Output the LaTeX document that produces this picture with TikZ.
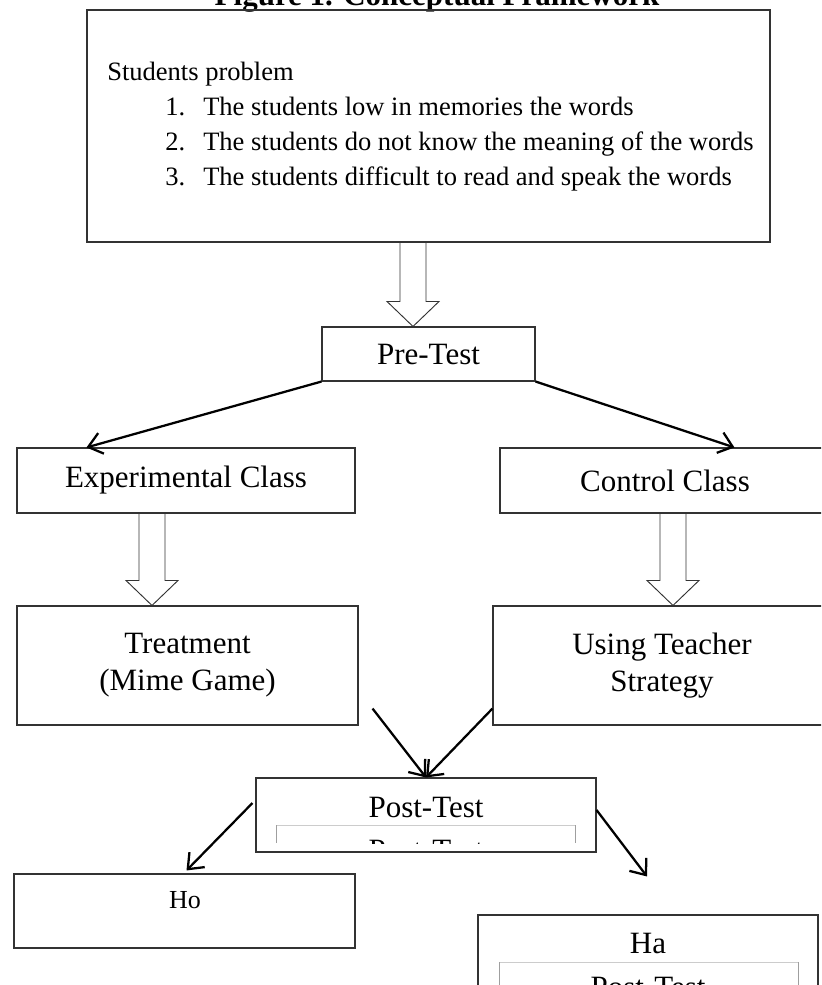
\documentclass[tikz,border=0pt]{standalone}
\usepackage{fontspec}
\setmainfont{Liberation Serif}
\usepackage{tikz}
\usetikzlibrary{arrows.meta, calc}

\tikzset{
    box/.style={draw=black!80, line width=0.8pt, inner sep=0pt, align=center, font=\fontsize{23.25}{27.75}\selectfont},
    txt/.style={anchor=base west, inner sep=0pt, font=\fontsize{19.9}{24}\selectfont},
    flow/.style={->, line width=1.7pt},
    hollow/.style={draw=black!80, line width=0.7pt},
}

\begin{document}
\begin{tikzpicture}[x=0.75pt, y=-0.75pt, >={Straight Barb[length=10pt,width=16pt]}]
    \clip (0,0) rectangle (821,985);

    \node[anchor=base, inner sep=0pt, font=\bfseries\fontsize{23.25}{28}\selectfont] (title) at (437,6) {Figure 1. Conceptual Framework};

    % problem box
    \node[box, minimum width=683*0.75pt, minimum height=232*0.75pt] (problem) at (428.5,126) {};
    \node[txt] (probhead) at (107,80) {Students problem};
    \foreach \n/\t in {1/The students low in memories the words, 2/The students do not know the meaning of the words, 3/The students difficult to read and speak the words} {
        \node[txt] (num\n) at (165,80+35*\n) {\n.};
        \node[txt] (item\n) at (203,80+35*\n) {\t};
    }

    \node[box, minimum width=213*0.75pt, minimum height=54*0.75pt] (pre) at (428.5,354) {Pre-Test};
    \node[box, minimum width=338*0.75pt, minimum height=65*0.75pt] (expc) at (186,480.5) {Experimental Class};
    \node[box, minimum width=330*0.75pt, minimum height=65*0.75pt] (ctrl) at (665,480.5) {Control Class};
    \node[box, minimum width=341*0.75pt, minimum height=119*0.75pt] (treat) at (187.5,665.5) {Treatment\\(Mime Game)};
    \node[box, minimum width=338*0.75pt, minimum height=119*0.75pt] (using) at (662,665.5) {Using Teacher\\Strategy};
    \node[box, minimum width=340*0.75pt, minimum height=74*0.75pt] (post) at (426,815) {};
    \node[box, minimum width=341*0.75pt, minimum height=74*0.75pt] (ho) at (184.5,911) {};
    \node[box, minimum width=340*0.75pt, minimum height=94*0.75pt] (ha) at (648,962) {};

    \node[font=\fontsize{23.25}{28}\selectfont] (posttext) at (426,807) {Post-Test};
    \node[font=\fontsize{19.5}{23}\selectfont] (hotext) at (185,900) {Ho};
    \node[font=\fontsize{23.25}{28}\selectfont] (hatext) at (648,943) {Ha};

    % cut off boxes inside Post-Test and Ha
    \draw[gray!40] (276,825) -- (575,825);
    \draw[gray!75] (276,825) -- (276,843) (575,825) -- (575,843);
    \begin{scope}
        \clip (276,825) rectangle (575,843);
        \node[anchor=base, inner sep=0pt, font=\fontsize{23.25}{28}\selectfont] (postghost) at (426,860) {Post-Test};
    \end{scope}
    \draw[gray!40] (499,962) -- (798,962);
    \draw[gray!75] (499,962) -- (499,990) (798,962) -- (798,990);
    \node[anchor=base, inner sep=0pt, font=\fontsize{23.25}{28}\selectfont] (haghost) at (648,997) {Post-Test};

    % hollow arrows
    \foreach \a/\b/\dx in {problem/pre/-15.5, expc/treat/-34, ctrl/using/8} {
        \coordinate (s) at ($(\a.south)+(\dx,0)$);
        \coordinate (t) at (s |- \b.north);
        \draw[hollow] ($(s)+(-13,0)$) -- ($(t)+(-13,-25)$) -- ($(t)+(-26,-25)$) -- (t)
            -- ($(t)+(26,-25)$) -- ($(t)+(13,-25)$) -- ($(s)+(13,0)$);
    }

    \draw[flow] (pre.south west) -- ($(expc.north west)+(70,0)$);
    \draw[flow] (pre.south east) -- ($(ctrl.north west)+(235,0)$);
    \draw[flow] ($(treat.south east)+(14,-17)$) -- (post.north);
    \draw[flow] ($(using.south west)+(0,-17)$) -- (post.north);
    \draw[flow] ($(post.west)+(-3,-12)$) -- ($(ho.north)+(2,-3)$);
    \draw[flow] ($(post.east)+(0,-5)$) -- ($(ha.north)+(-1,-38)$);
\end{tikzpicture}
\end{document}
